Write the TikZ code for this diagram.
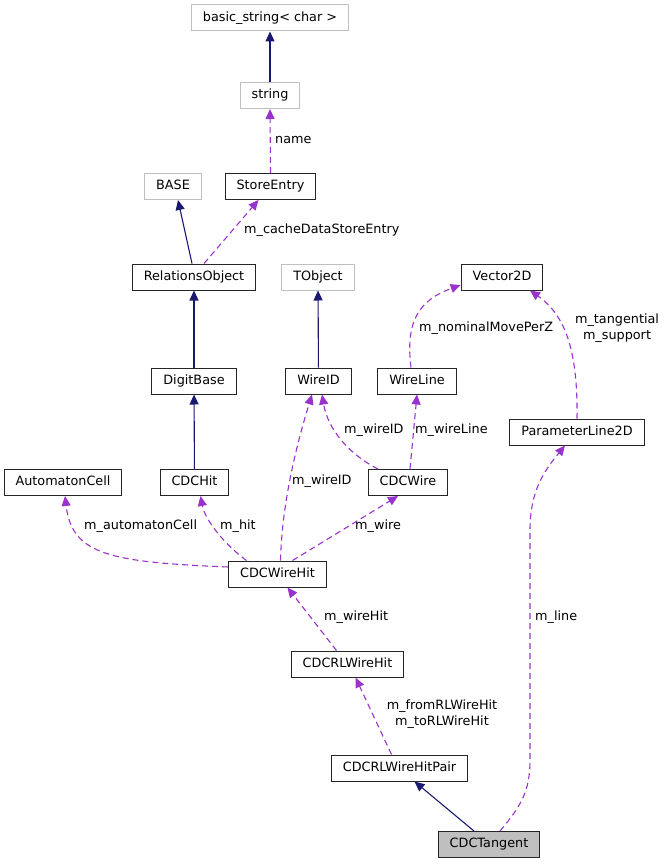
\documentclass[tikz,border=0pt]{standalone}
\usepackage{fontspec}
\setmainfont{DejaVu Sans}
\definecolor{inhblue}{RGB}{25,25,112}
\definecolor{usepurple}{RGB}{154,50,205}
\definecolor{extgray}{RGB}{191,191,191}
\tikzset{every picture/.style={/utils/exec={\fontsize{12.8}{15.5}\selectfont}}}
\usetikzlibrary{arrows.meta}

\tikzset{
  cls/.style={draw=black!85, line width=1pt, minimum height=26pt, inner xsep=11.5pt, inner ysep=0pt, text height=9.5pt, text depth=2.8pt},
  extcls/.style={cls, draw=extgray},
  inherit/.style={-{Triangle[length=10pt,width=9pt]}, inhblue, line width=1.1pt},
  uses/.style={-{Triangle[length=10pt,width=9pt]}, usepurple, line width=1.1pt, dash pattern=on 6pt off 4pt},
  lbl/.style={anchor=west, inner sep=0pt},
}

\begin{document}
\begin{tikzpicture}[x=1pt,y=-1pt]
  \useasboundingbox (0,0) rectangle (667,864);

  \node [extcls] (basicstr) at (270,18) {basic\_string< char >};
  \node [extcls] (string) at (270,95.5) {string};
  \node [extcls] (base) at (173,186.5) {BASE};
  \node [cls] (storeentry) at (270.5,186.5) {StoreEntry};
  \node [cls] (relobj) at (194,277) {RelationsObject};
  \node [extcls] (tobject) at (318,277) {TObject};
  \node [cls] (vector) at (502,277) {Vector2D};
  \node [cls] (digitbase) at (194,381) {DigitBase};
  \node [cls] (wireid) at (318.5,381) {WireID};
  \node [cls] (wireline) at (417,381) {WireLine};
  \node [cls] (paramline) at (577,432) {ParameterLine2D};
  \node [cls] (automaton) at (63,482.5) {AutomatonCell};
  \node [cls] (cdchit) at (194.5,482.5) {CDCHit};
  \node [cls] (cdcwire) at (408,482.5) {CDCWire};
  \node [cls] (wirehit) at (277.5,574) {CDCWireHit};
  \node [cls] (rlwirehit) at (347.5,664) {CDCRLWireHit};
  \node [cls] (rlpair) at (399.5,768) {CDCRLWireHitPair};
  \node [cls, fill=extgray] (tangent) at (489,844.5) {CDCTangent};

  % inheritance
  \draw [inherit] (string.north) -- (basicstr.south);
  \draw [inherit] ([xshift=-2pt]relobj.north) -- ([xshift=5pt]base.south);
  \draw [inherit] (digitbase) -- (relobj);
  \draw [inherit] (wireid) -- (tobject);
  \draw [inherit] (cdchit) -- (digitbase);
  \draw [inherit] ([xshift=-15pt]tangent.north) -- ([xshift=15pt]rlpair.south);

  % members
  \draw [uses] (storeentry.north) -- (string.south);
  \node [lbl] (lname) at (275,140) {name};
  \draw [uses] ([xshift=10pt]relobj.north) -- ([xshift=-12pt]storeentry.south);
  \node [lbl] (lcache) at (244,230) {m\_cacheDataStoreEntry};
  \draw [uses] ([xshift=-6pt]wireline.north) .. controls (405,320) and (420,300) .. ([yshift=-8pt]vector.west);
  \node [lbl] (lmove) at (419,328) {m\_nominalMovePerZ};
  \draw [uses] (paramline.north) .. controls (578,350) and (565,315) .. ([xshift=28pt]vector.south);
  \node [lbl, anchor=center, align=center] (ltangent) at (617,328) {m\_tangential\\m\_support};
  \draw [uses] ([xshift=-30pt]cdcwire.north) .. controls (350,455) and (328,430) .. ([xshift=3.5pt]wireid.south);
  \node [lbl] (lwireid) at (344,430) {m\_wireID};
  \draw [uses] ([xshift=2pt]cdcwire.north) -- (wireline.south);
  \node [lbl] (lwireline) at (415,430) {m\_wireLine};
  \draw [uses] ([yshift=7pt]wirehit.west) .. controls (110,562) and (72,555) .. ([xshift=2pt]automaton.south);
  \node [lbl] (lautomaton) at (84,526) {m\_automatonCell};
  \draw [uses] ([xshift=-31pt]wirehit.north) .. controls (225,545) and (205,520) .. ([xshift=6pt]cdchit.south);
  \node [lbl] (lhit) at (220,526) {m\_hit};
  \draw [uses] ([xshift=3pt]wirehit.north) .. controls (282,500) and (298,440) .. ([xshift=-6.5pt]wireid.south);
  \node [lbl] (lwireidb) at (292,481) {m\_wireID};
  \draw [uses] ([xshift=15pt]wirehit.north) -- ([xshift=-10pt]cdcwire.south);
  \node [lbl] (lwire) at (355,526) {m\_wire};
  \draw [uses] ([xshift=-11pt]rlwirehit.north) -- ([xshift=10pt]wirehit.south);
  \node [lbl] (lwirehit) at (324,617) {m\_wireHit};
  \draw [uses] ([xshift=-8pt]rlpair.north) -- ([xshift=8pt]rlwirehit.south);
  \node [lbl, anchor=center, align=center] (lrlhit) at (442,714) {m\_fromRLWireHit\\m\_toRLWireHit};
  \draw [uses] ([xshift=11pt]tangent.north) .. controls (522,805) and (530,790) .. (530,760) -- (530,530) .. controls (530,490) and (545,470) .. ([xshift=-12pt]paramline.south);
  \node [lbl] (lline) at (535,617) {m\_line};

\end{tikzpicture}
\end{document}
